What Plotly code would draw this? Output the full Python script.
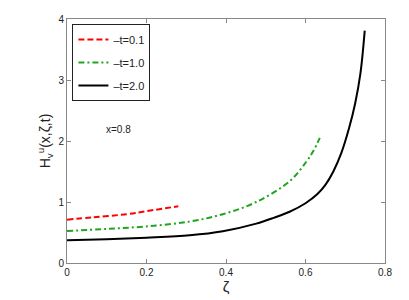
import plotly.graph_objects as go

# Data
zeta_t01 = [0.0, 0.065, 0.15, 0.2, 0.28]
H_t01 = [0.71, 0.75, 0.80, 0.85, 0.93]

zeta_t10 = [0.0, 0.1, 0.2, 0.309, 0.392, 0.476, 0.56, 0.602, 0.62, 0.636]
H_t10 = [0.525, 0.56, 0.60, 0.68, 0.80, 1.0, 1.34, 1.66, 1.84, 2.05]

zeta_t20 = [0.0, 0.1, 0.2, 0.309, 0.392, 0.476, 0.52, 0.56, 0.6, 0.63, 0.65, 0.67, 0.69, 0.71, 0.725, 0.738, 0.749]
H_t20 = [0.372, 0.39, 0.415, 0.454, 0.52, 0.645, 0.74, 0.84, 0.98, 1.13, 1.28, 1.50, 1.80, 2.22, 2.62, 3.1, 3.81]

labels = ["\u2013t=0.1", "\u2013t=1.0", "\u2013t=2.0"]
x_ticks = [0, 0.2, 0.4, 0.6, 0.8]
x_ticklabels = ["0", "0.2", "0.4", "0.6", "0.8"]
y_ticks = [0, 1, 2, 3, 4]

fig = go.Figure()
fig.add_trace(go.Scatter(x=zeta_t01, y=H_t01, mode="lines", name=labels[0], legendgroup="a",
                         line=dict(color="#ff0000", width=2, dash="6px,3px", shape="spline")))
fig.add_trace(go.Scatter(x=zeta_t10, y=H_t10, mode="lines", name=labels[1], legendgroup="b",
                         line=dict(color="#1fa51f", width=2, dash="6px,3px,2px,3px", shape="spline")))
fig.add_trace(go.Scatter(x=zeta_t20, y=H_t20, mode="lines", name=labels[2], legendgroup="c",
                         line=dict(color="#000000", width=2, shape="spline")))

fig.add_annotation(x=0.13, y=2.19, text="x=0.8", showarrow=False, xref="x", yref="y",
                   font=dict(size=10, color="#222"))

axis_common = dict(showline=True, linecolor="#888", linewidth=1, mirror="ticks",
                   ticks="inside", ticklen=4, tickcolor="#888", showgrid=False,
                   zeroline=False, automargin=False,
                   tickfont=dict(size=10, color="#222", family="Liberation Sans, Arial"))
fig.update_xaxes(range=[0, 0.8], tickvals=x_ticks, ticktext=x_ticklabels,
                 title=dict(text="\u03b6", font=dict(size=15, color="#222"), standoff=2),
                 **axis_common)
fig.update_yaxes(range=[0, 4], tickvals=y_ticks,
                 title=dict(text="H<sub>v</sub><sup>u</sup>(x,\u03b6,t)",
                            font=dict(size=14, color="#222"), standoff=4),
                 **axis_common)

fig.update_layout(
    width=409, height=300,
    margin=dict(l=59, r=32, t=11, b=45),
    plot_bgcolor="white", paper_bgcolor="white",
    font=dict(family="Liberation Sans, Arial", color="#222"),
    legend=dict(x=0.017, y=0.98, xanchor="left", yanchor="top",
                bgcolor="white", bordercolor="#222", borderwidth=1,
                tracegroupgap=4,
                font=dict(size=11, color="#222")),
)

fig.write_html("out.html")
